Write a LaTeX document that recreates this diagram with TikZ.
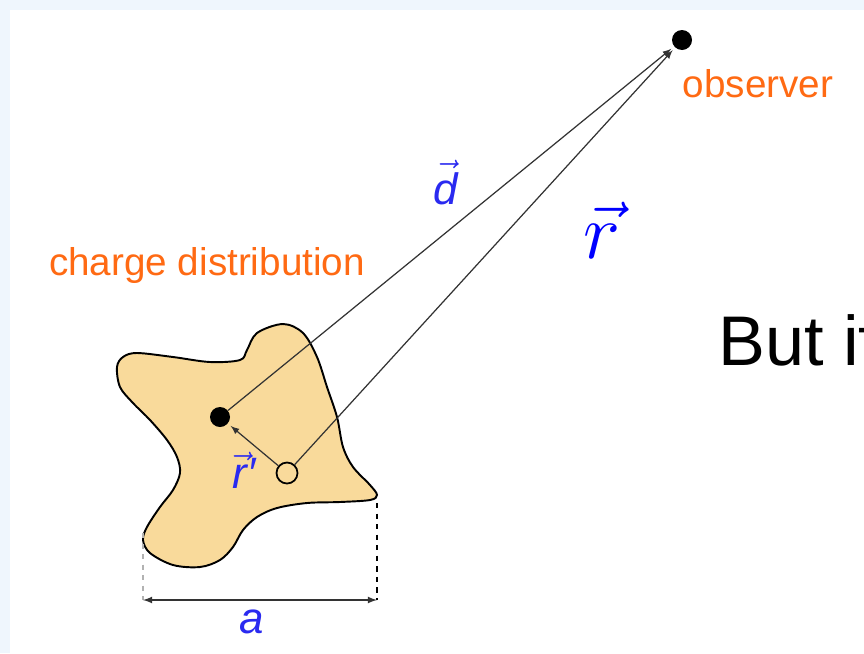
\RequirePackage{fix-cm}
\documentclass[tikz,border=0pt]{standalone}
\usepackage{fontspec}
\setsansfont{Liberation Sans}
\definecolor{skyband}{HTML}{EFF6FD}
\definecolor{blobfill}{HTML}{F9DA9B}
\definecolor{labelorange}{HTML}{FF6A13}
\definecolor{labelblue}{HTML}{2A2AF0}
\definecolor{arrowgray}{HTML}{333333}
\tikzset{
  dot/.style={circle,fill=black,inner sep=0pt,minimum size=0.4cm},
  ring/.style={circle,draw=black,line width=1pt,fill=blobfill,inner sep=0pt,minimum size=0.42cm},
  vec/.style={draw=arrowgray,line width=0.7pt,-latex,shorten >=2pt},
  orangetext/.style={text=labelorange,font=\sffamily\fontsize{22}{26}\selectfont},
  bluetext/.style={text=labelblue,font=\sffamily\fontsize{25}{30}\selectfont}
}

\begin{document}
\begin{tikzpicture}[x=0.02cm,y=-0.02cm]
  \useasboundingbox (0,0) rectangle (864,653);
  \clip (0,0) rectangle (864,653);
  \fill[skyband] (0,0) rectangle (864,653);
  \fill[white] (10,10) rectangle (864,653);
  \filldraw[fill=blobfill,draw=black,line width=1.1pt] plot[smooth cycle,tension=0.55] coordinates {
    (283,324) (303,333) (317,357) (327,387) (337,417) (343,447) (353,467) (370,485)
    (377,495) (370,500) (340,502) (307,503) (277,508) (257,517) (243,530) (233,547)
    (220,560) (200,567) (173,565) (150,553) (143,540) (147,527) (160,507) (173,490)
    (180,473) (177,457) (167,440) (150,420) (133,403) (120,387) (117,367) (123,357)
    (137,353) (173,357) (210,362) (240,360) (247,350) (257,333)};
  \node[dot] (C) at (220,417) {};
  \node[ring] (S) at (287,473) {};
  \node[dot] (O) at (682,40) {};
  \node[orangetext,anchor=base] (obs) at (758,97) {observer};
  \node[orangetext,anchor=base] (dist) at (207,275) {charge distribution};
  \node[bluetext,anchor=base] (d) at (446,204) {$\vec{\textsf{\itshape d}}$};
  \node[text=blue,font=\fontsize{45}{50}\selectfont,anchor=base] (r) at (602,258) {$\vec r$};
  \node[bluetext,anchor=base] (rp) at (244,488) {$\vec{\textsf{\itshape r}}$\itshape ′};
  \node[anchor=base west,font=\sffamily\fontsize{40}{46}\selectfont] (but) at (712,365) {But if};
  \draw[vec] (C) -- (O);
  \draw[vec] (S) -- (O);
  \draw[vec] (S) -- (C);
  \coordinate (aL) at (143,600);
  \coordinate (aR) at (377,600);
  \coordinate (eL) at (143,533);
  \coordinate (eR) at (377,503);
  \draw[gray!60,dashed,line width=0.8pt] (eL) -- (aL);
  \draw[black,dashed,line width=0.8pt] (eR) -- (aR);
  \draw[arrowgray,line width=0.8pt,latex-latex] (aL) -- (aR);
  \node[bluetext,anchor=base] (a) at (252,633) {\itshape a};
\end{tikzpicture}
\end{document}
